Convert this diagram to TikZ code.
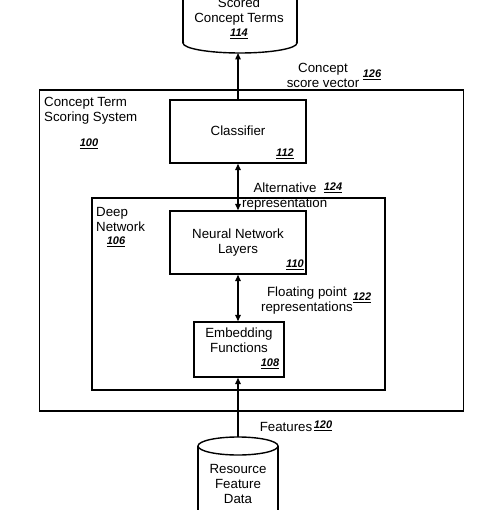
\documentclass[tikz,border=0pt]{standalone}
\usepackage{fontspec}
\setmainfont{Liberation Sans}
\usetikzlibrary{arrows.meta}
\newcommand\rnum[1]{{\fontsize{11}{13}\selectfont\bfseries\itshape\underline{#1}}}
\begin{document}
\begin{tikzpicture}[x=1pt,y=-1pt,
  every node/.style={font=\fontsize{13.3}{15}\selectfont, inner sep=0pt},
  box/.style={draw, line width=1.4pt, inner sep=0pt},
  txt/.style={align=center},
  ltxt/.style={align=left, anchor=west},
  cyl/.style={line width=1.4pt},
  arr/.style={-{Triangle[length=6.5pt,width=5.5pt]}, line width=1.4pt},
  darr/.style={{Triangle[length=6.5pt,width=5.5pt]}-{Triangle[length=6.5pt,width=5.5pt]}, line width=1.4pt}]
\useasboundingbox (0,0) rectangle (499,510);
\clip (0,0) rectangle (499,510);

% outer boxes
\node[box, minimum width=424pt, minimum height=321pt] (sys) at (251.5,250.5) {};
\node[box, minimum width=293pt, minimum height=192pt] (deep) at (238.5,294) {};
% inner boxes
\node[box, minimum width=136pt, minimum height=63pt] (cls) at (238,131.5) {};
\node[box, minimum width=136pt, minimum height=63pt] (nn) at (238,242.5) {};
\node[box, minimum width=90pt, minimum height=55pt] (emb) at (239,349.5) {};

% top cylinder (Scored Concept Terms)
\begin{scope}
  \clip (170,43) rectangle (310,70);
  \draw[cyl] (240,43) ellipse [x radius=57pt, y radius=10pt];
\end{scope}
\draw[cyl] (183,-5) -- (183,43.5);
\draw[cyl] (297,-5) -- (297,43.5);
\coordinate (scoredbot) at (240,53);
\node[txt] (scoredt) at (239,18) {Scored\\Concept Terms\\[-1pt]\rnum{114}};

% bottom cylinder (Resource Feature Data)
\draw[cyl] (238,446) ellipse [x radius=40pt, y radius=9pt];
\draw[cyl] (198,446) -- (198,520);
\draw[cyl] (278,446) -- (278,520);
\coordinate (rfdtop) at (238,437);
\node[txt] (rfdt) at (238,492.5) {Resource\\Feature\\Data\\[1pt]\rnum{116}};

% box texts
\node[ltxt] (syst) at (44,110.5) {Concept Term\\Scoring System};
\node (sysn) at (89,144) {\rnum{100}};
\node (clst) at (238,131) {Classifier};
\node (clsn) at (285,154) {\rnum{112}};
\node[ltxt] (deept) at (96,219) {Deep\\Network};
\node (deepn) at (116,242) {\rnum{106}};
\node[txt] (nnt) at (238,242.5) {Neural Network\\Layers};
\node (nnn) at (295,265) {\rnum{110}};
\node[txt] (embt) at (239,340.5) {Embedding\\Functions};
\node (embn) at (270,364) {\rnum{108}};

% connector labels
\node[txt] (csv) at (323,75) {Concept\\score vector};
\node (csvn) at (372,75) {\rnum{126}};
\node (altt) at (285,188) {Alternative};
\node (altn) at (333,188) {\rnum{124}};
\node[ltxt] (altr) at (242,204.5) {representation};
\node[txt] (fpt) at (307,300.5) {Floating point\\representations};
\node (fpn) at (362,298) {\rnum{122}};
\node (feat) at (286,426.5) {Features};
\node (featn) at (323,426) {\rnum{120}};

% connectors
\draw[arr] (cls.north) -- (cls.north |- scoredbot);
\draw[darr] (cls.south) -- (nn.north);
\draw[darr] (nn.south) -- (nn.south |- emb.north);
\draw[arr] (rfdtop) -- (rfdtop |- emb.south);
\end{tikzpicture}
\end{document}
